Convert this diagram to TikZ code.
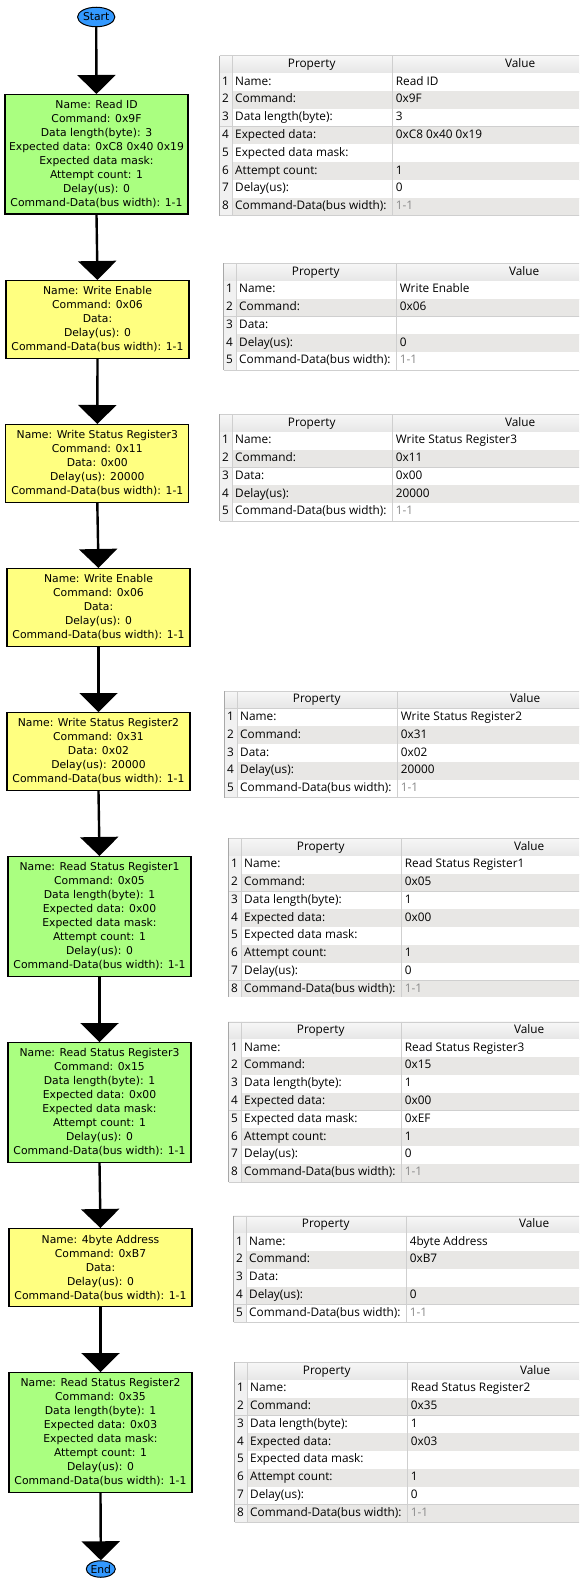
\documentclass[tikz,border=0pt]{standalone}
\usepackage{fontspec}
\setmainfont{DejaVu Sans}
\newfontfamily\tabfont{Open Sans}
\usetikzlibrary{arrows.meta,shapes.geometric}
\definecolor{boxgreen}{HTML}{AAFF80}
\definecolor{boxyellow}{HTML}{FFFF80}
\definecolor{ellblue}{HTML}{3399FF}
\definecolor{rowgray}{HTML}{E8E7E5}
\definecolor{gridc}{HTML}{CFCFCF}
\definecolor{hdrtop}{HTML}{F7F7F7}
\definecolor{hdrbot}{HTML}{E6E6E6}
\definecolor{numbg}{HTML}{F1F1F1}
\definecolor{valgray}{HTML}{8A8A8A}
\definecolor{bordc}{HTML}{A8A8A8}
\tikzset{
 stepbox/.style={draw=black, line width=1.2pt, minimum width=183pt, inner xsep=2pt, inner ysep=0pt, align=center, font=\fontsize{10.8}{14}\selectfont, anchor=north},
 readbox/.style={stepbox, fill=boxgreen, minimum height=119.5pt},
 writebox/.style={stepbox, fill=boxyellow, minimum height=78pt},
 terminal/.style={ellipse, draw=black, line width=1pt, fill=ellblue, inner sep=0pt, font=\fontsize{10.8}{13}\selectfont},
 flow/.style={line width=2.4pt, -{Triangle[width=38pt,length=19pt]}},
 tabtxt/.style={font=\tabfont\fontsize{11.8}{13}\selectfont, inner sep=0pt, text height=8.5pt, text depth=2.6pt},
}
\newcommand\proptable[5]{%
\begin{scope}[shift={(#2,#3)}]
 \shade[top color=hdrtop, bottom color=hdrbot] (-12.2,0) rectangle (417,17.6);
 \draw[gridc] (-12.2,17.6) -- (417,17.6);
 \draw[gridc] (-12.2,0) -- (417,0);
 \node[tabtxt] (#1-hp) at (80,8.8) {Property};
 \node[tabtxt] (#1-hv) at (288.5,8.8) {Value};
 \foreach[count=\i] \p/\v in {#5} {
   \pgfmathsetmacro\yt{17.6+(\i-1)*17.8}
   \ifodd\i \def\rc{white}\else\def\rc{rowgray}\fi
   \fill[fill=\rc] (0,\yt) rectangle (417,\yt+17.8);
   \fill[numbg] (-12.2,\yt) rectangle (0,\yt+17.8);
   \draw[gridc] (-12.2,\yt+17.8) -- (417,\yt+17.8);
   \node[tabtxt] (#1-n\i) at (-6.1,\yt+8.9) {\i};
   \node[tabtxt, anchor=west] (#1-p\i) at (3.3,\yt+8.9) {\p};
   \node[tabtxt, anchor=west] (#1-v\i) at (164,\yt+8.9) {\v};
 }
 \pgfmathsetmacro\yb{17.6+#4*17.8}
 \draw[bordc] (-12.2,0) -- (-12.2,\yb);
 \draw[gridc] (0,0) -- (0,\yb);
 \draw[gridc] (160,0) -- (160,\yb);
\end{scope}}
\begin{document}
\begin{tikzpicture}[x=1pt,y=-1pt]
\useasboundingbox (0,0) rectangle (579,1589);
\clip (0,0) rectangle (579,1589);
\fill[white] (0,0) rectangle (579,1589);
% flow chart
\node[terminal, minimum width=34pt, minimum height=19.5pt] (start) at (96.2,17) {Start};
\node[readbox] (b1) at (96.5,94) {Name: Read ID\\Command: 0x9F\\Data length(byte): 3\\Expected data: 0xC8 0x40 0x19\\Expected data mask:\\Attempt count: 1\\Delay(us): 0\\Command-Data(bus width): 1-1};
\node[writebox] (b2) at (97.5,280) {Name: Write Enable\\Command: 0x06\\Data:\\Delay(us): 0\\Command-Data(bus width): 1-1};
\node[writebox] (b3) at (97.3,424) {Name: Write Status Register3\\Command: 0x11\\Data: 0x00\\Delay(us): 20000\\Command-Data(bus width): 1-1};
\node[writebox] (b4) at (98.5,568) {Name: Write Enable\\Command: 0x06\\Data:\\Delay(us): 0\\Command-Data(bus width): 1-1};
\node[writebox] (b5) at (98.5,712) {Name: Write Status Register2\\Command: 0x31\\Data: 0x02\\Delay(us): 20000\\Command-Data(bus width): 1-1};
\node[readbox] (b6) at (99.5,856) {Name: Read Status Register1\\Command: 0x05\\Data length(byte): 1\\Expected data: 0x00\\Expected data mask:\\Attempt count: 1\\Delay(us): 0\\Command-Data(bus width): 1-1};
\node[readbox] (b7) at (99.5,1042) {Name: Read Status Register3\\Command: 0x15\\Data length(byte): 1\\Expected data: 0x00\\Expected data mask:\\Attempt count: 1\\Delay(us): 0\\Command-Data(bus width): 1-1};
\node[writebox] (b8) at (100.5,1228) {Name: 4byte Address\\Command: 0xB7\\Data:\\Delay(us): 0\\Command-Data(bus width): 1-1};
\node[readbox] (b9) at (100.5,1372) {Name: Read Status Register2\\Command: 0x35\\Data length(byte): 1\\Expected data: 0x03\\Expected data mask:\\Attempt count: 1\\Delay(us): 0\\Command-Data(bus width): 1-1};
\node[terminal, minimum width=28.5pt, minimum height=16.5pt] (end) at (100.8,1569) {End};
\draw[flow] (start.south) -- (b1.north);
\draw[flow] (b1.south) -- (b2.north);
\draw[flow] (b2.south) -- (b3.north);
\draw[flow] (b3.south) -- (b4.north);
\draw[flow] (b4.south) -- (b5.north);
\draw[flow] (b5.south) -- (b6.north);
\draw[flow] (b6.south) -- (b7.north);
\draw[flow] (b7.south) -- (b8.north);
\draw[flow] (b8.south) -- (b9.north);
\draw[flow] (b9.south) -- (end.north);
% property tables
\proptable{t1}{231.7}{55.7}{8}{Name:/Read ID, Command:/0x9F, Data length(byte):/3, Expected data:/0xC8 0x40 0x19, Expected data mask:/{}, Attempt count:/1, Delay(us):/0, Command-Data(bus width):/\textcolor{valgray}{1-1}}
\proptable{t2}{235.7}{263.3}{5}{Name:/Write Enable, Command:/0x06, Data:/{}, Delay(us):/0, Command-Data(bus width):/\textcolor{valgray}{1-1}}
\proptable{t3}{231.7}{414.3}{5}{Name:/Write Status Register3, Command:/0x11, Data:/0x00, Delay(us):/20000, Command-Data(bus width):/\textcolor{valgray}{1-1}}
\proptable{t5}{236.7}{691}{5}{Name:/Write Status Register2, Command:/0x31, Data:/0x02, Delay(us):/20000, Command-Data(bus width):/\textcolor{valgray}{1-1}}
\begin{scope}
\clip (0,0) rectangle (579,996.5);
\proptable{t6}{240.7}{838.3}{8}{Name:/Read Status Register1, Command:/0x05, Data length(byte):/1, Expected data:/0x00, Expected data mask:/{}, Attempt count:/1, Delay(us):/0, Command-Data(bus width):/\textcolor{valgray}{1-1}}
\end{scope}
\proptable{t7}{240.7}{1021.7}{8}{Name:/Read Status Register3, Command:/0x15, Data length(byte):/1, Expected data:/0x00, Expected data mask:/0xEF, Attempt count:/1, Delay(us):/0, Command-Data(bus width):/\textcolor{valgray}{1-1}}
\proptable{t8}{245.7}{1215.7}{5}{Name:/4byte Address, Command:/0xB7, Data:/{}, Delay(us):/0, Command-Data(bus width):/\textcolor{valgray}{1-1}}
\proptable{t9}{246.7}{1362.3}{8}{Name:/Read Status Register2, Command:/0x35, Data length(byte):/1, Expected data:/0x03, Expected data mask:/{}, Attempt count:/1, Delay(us):/0, Command-Data(bus width):/\textcolor{valgray}{1-1}}
\end{tikzpicture}
\end{document}
